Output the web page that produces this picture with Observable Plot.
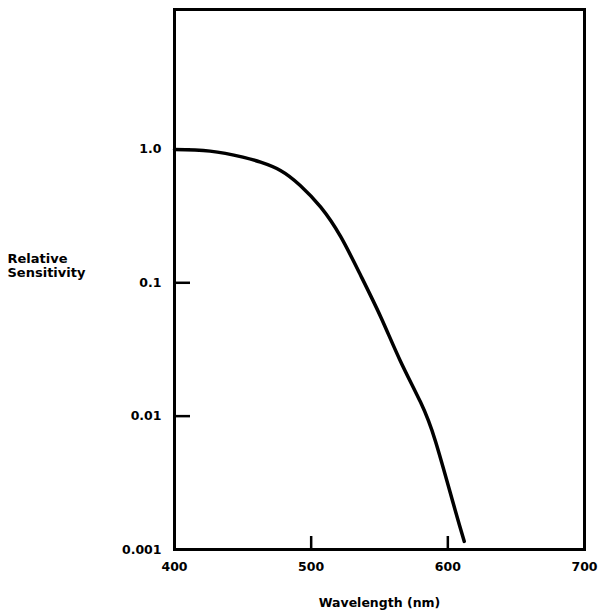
<!DOCTYPE html>
<html>
<head>
<meta charset="utf-8">
<script src="https://cdn.jsdelivr.net/npm/d3@7"></script>
<script src="https://cdn.jsdelivr.net/npm/@observablehq/plot@0.6"></script>
<style>
  html, body { margin: 0; padding: 0; background: #fff; }
  #chart svg { font-family: "DejaVu Sans", sans-serif; font-weight: bold; }
</style>
</head>
<body>
<div id="chart"></div>
<script>
// Data
const wavelengths = [400, 426, 450, 463, 477.5, 492, 507, 521.5, 536, 551, 565, 580, 591, 604, 612];
const sensitivity = [1.0, 0.971, 0.875, 0.803, 0.696, 0.537, 0.369, 0.2226, 0.1148, 0.0552, 0.0263, 0.01274, 0.00646, 0.00221, 0.00115];
const yTicks = [1, 0.1, 0.01, 0.001];
const yTickLabels = ["1.0", "0.1", "0.01", "0.001"];
const xTicks = [400, 500, 600, 700];
const xTickLabels = ["400", "500", "600", "700"];
const yInnerTicks = [1, 0.1, 0.01];
const xInnerTicks = [500, 600];

const data = wavelengths.map((w, i) => ({w, s: sensitivity[i]}));

const chart = Plot.plot({
  width: 603,
  height: 615,
  marginLeft: 174,
  marginRight: 19,
  marginTop: 9,
  marginBottom: 66,
  style: {fontFamily: "'DejaVu Sans', sans-serif", fontSize: "12.5px", fontWeight: "bold", color: "#000", background: "#fff"},
  x: {domain: [400, 700]},
  y: {type: "log", domain: [0.001, 11.2]},
  marks: [
    Plot.axisY({ticks: yTicks, tickSize: 0, tickPadding: 13, tickFormat: d => yTickLabels[yTicks.indexOf(d)], fontSize: 12.5, fontWeight: "bold", label: null}),
    Plot.axisX({ticks: xTicks, tickSize: 0, tickPadding: 13, tickFormat: d => xTickLabels[xTicks.indexOf(d)], fontSize: 12.5, fontWeight: "bold", label: "Wavelength (nm)", labelAnchor: "center", labelArrow: "none", labelOffset: 57}),
    Plot.tickY(yInnerTicks, {y: d => d, insetRight: 394, strokeWidth: 2.5, stroke: "#000"}),
    Plot.tickX(xInnerTicks, {x: d => d, insetTop: 527, strokeWidth: 2.5, stroke: "#000"}),
    Plot.frame({stroke: "#000", strokeWidth: 3}),
    Plot.line(data, {x: "w", y: "s", curve: "natural", stroke: "#000", strokeWidth: 3.5}),
    Plot.text(["Relative\nSensitivity"], {frameAnchor: "left", dx: -167, dy: -14, textAnchor: "start", fontSize: 13, fontWeight: "bold", lineHeight: 1.1})
  ]
});
document.getElementById("chart").appendChild(chart);
</script>
</body>
</html>
